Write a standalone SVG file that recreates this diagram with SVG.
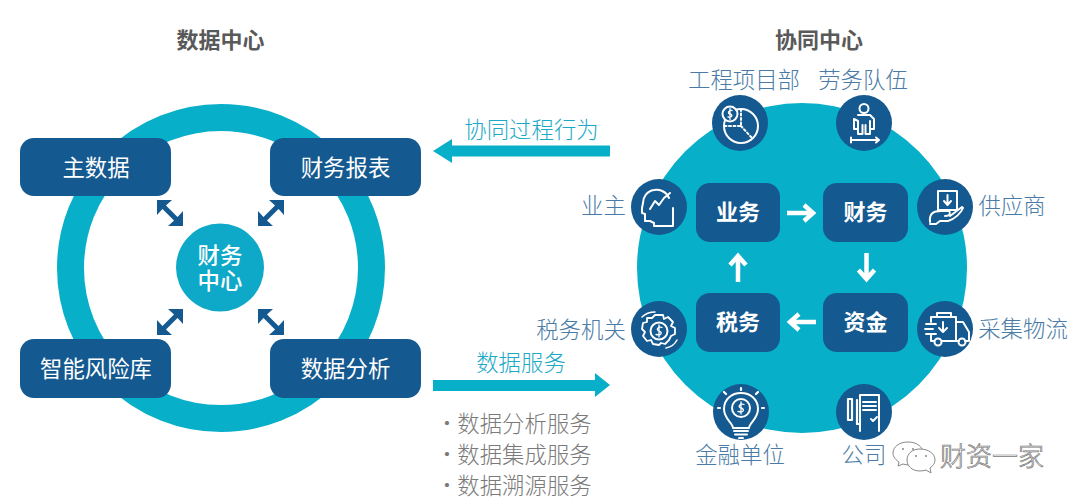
<svg xmlns="http://www.w3.org/2000/svg" width="1080" height="504" viewBox="0 0 1080 504">
<style>
text{font-family:"Noto Sans CJK SC","Noto Sans",sans-serif;font-size:22.400px;text-anchor:middle;dominant-baseline:central}
.title{fill:#595959;font-weight:700;font-size:22px}
.box{fill:#14598f}
.bt{fill:#fff}
.bb{fill:#fff;font-weight:700;font-size:22px}
.lab{fill:#4a7ba6;font-weight:300}
.flow{fill:#1ba9c6;font-weight:300}
.list{fill:#7a7a7a;font-weight:300}
.ic{fill:#14598f}
.i{fill:none;stroke:#fff;stroke-width:2;stroke-linecap:round;stroke-linejoin:round}
.d{stroke-dasharray:2 2.5}
.wa{fill:none;stroke:#fff;stroke-width:4.5}
.wm{fill:#fff;stroke:#777;stroke-width:.7;font-size:26px;font-weight:300}
.wb{fill:#fff;stroke:#888;stroke-width:1}
</style>
<defs>
<g id="dbl">
<path d="M-10-10L10 10" stroke="#14598f" stroke-width="5" fill="none"/>
<path id="h" d="M-13-13H2L-3-8.500-8.500-3-13 2Z" fill="#14598f"/>
<path d="M13 13H-2L3 8.500 8.500 3 13-2Z" fill="#14598f"/>
</g>
<path id="wa" class="wa" d="M-14 0H12M3-8L12 0 3 8"/>
</defs>
<text class="title" x="220.500" y="38">数据中心</text>
<text class="title" x="819" y="38">协同中心</text>
<g id="ring"><circle cx="221" cy="268" r="150.500" fill="none" stroke="#08afc9" stroke-width="27"/></g>
<g id="hub"><circle cx="220" cy="267.500" r="44" fill="#0ea9c8"/><text class="bt" font-weight="500"><tspan x="220" y="254">财务</tspan><tspan x="220" y="279">中心</tspan></text></g>
<g id="n-master"><rect class="box" x="20" y="138" width="151" height="58" rx="14"/><text class="bt" x="96" y="165.500">主数据</text></g>
<g id="n-report"><rect class="box" x="270" y="138" width="151" height="58" rx="14"/><text class="bt" x="345.500" y="165.500">财务报表</text></g>
<g id="n-risk"><rect class="box" x="20" y="339" width="151" height="59" rx="14"/><text class="bt" x="96" y="366.500">智能风险库</text></g>
<g id="n-analysis"><rect class="box" x="270" y="339" width="151" height="59" rx="14"/><text class="bt" x="345.500" y="366.500">数据分析</text></g>
<g id="bigcircle"><circle cx="802" cy="268" r="165" fill="#08afc9"/></g>
<g id="connectors">
<use href="#dbl" transform="translate(170 213)"/>
<use href="#dbl" transform="translate(271 213) rotate(90)"/>
<use href="#dbl" transform="translate(170 322) rotate(90)"/>
<use href="#dbl" transform="translate(271 322)"/>
<path d="M610 145.500H452V139L433 151 452 163V156.500H610Z" fill="#08afc9"/>
<path d="M433 380H595V373L610 385 595 397V391H433Z" fill="#08afc9"/>
</g>
<text class="flow" x="531.500" y="128">协同过程行为</text>
<text class="flow" x="521" y="361">数据服务</text>
<g id="n-biz"><rect class="box" x="696" y="183" width="84" height="59" rx="14"/><text class="bb" x="738" y="210">业务</text></g>
<g id="n-fin"><rect class="box" x="823" y="183" width="85" height="59" rx="14"/><text class="bb" x="865.500" y="210">财务</text></g>
<g id="n-tax"><rect class="box" x="696" y="293" width="84" height="59" rx="14"/><text class="bb" x="738" y="320">税务</text></g>
<g id="n-fund"><rect class="box" x="823" y="293" width="85" height="59" rx="14"/><text class="bb" x="865.500" y="320">资金</text></g>
<g id="flow-arrows">
<use href="#wa" transform="translate(801 213)"/>
<use href="#wa" transform="translate(866.500 267) rotate(90)"/>
<use href="#wa" transform="translate(802 322) rotate(180)"/>
<use href="#wa" transform="translate(738 268) rotate(-90)"/>
</g>
<g id="i-project"><circle class="ic" cx="740" cy="123" r="28"/>
<g class="i"><circle cx="741" cy="126" r="17"/><circle cx="730" cy="114" r="7.500" fill="#14598f"/><path d="M732 110.500C728 110 727.500 114 730 114S733 118 728 117M730 108.500V119.500" stroke-width="1.300"/><path class="d" d="M741 109V126H725M741 126L752 138"/></g>
<text class="lab" x="744" y="78">工程项目部</text></g>
<g id="i-labor"><circle class="ic" cx="864" cy="123" r="28"/>
<g class="i"><circle cx="864" cy="108.500" r="4.500"/><path d="M858 115H870L874 119V129H870V121M870 129V134H865.500V125M862.500 125V134H858V129M858 121V129H854V119Z"/><path d="M851 140H879M851 137.500V142.500M876 137.500L879 140 876 142.500"/></g>
<text class="lab" x="863" y="78">劳务队伍</text></g>
<g id="i-owner"><circle class="ic" cx="659" cy="207" r="28"/>
<g class="i"><path d="M669 198C666 191 659 189 654 190 647 191 643 197 643 203L642 208 642 213 645 214V221H650L654 223V226H673V208"/><path d="M650 209L655 201 659 205 664 198 670 193" stroke-width="2"/></g>
<text class="lab" x="603.500" y="204">业主</text></g>
<g id="i-supplier"><circle class="ic" cx="945" cy="207" r="28"/>
<g class="i"><rect x="938" y="191" width="19" height="19"/><path d="M947.500 195V204M944 201L947.500 205 951 201"/><path d="M930 222C929 213 934 211 941 211H949C951 213 950 216 945 216M950 216L962 207 963 208C961 213 955 219 948 221H940L936 224 930 224"/></g>
<text class="lab" x="1012" y="204">供应商</text></g>
<g id="i-taxbureau"><circle class="ic" cx="659" cy="329" r="28"/>
<g class="i"><path d="M655 315H663L664 319 668 317 673 322 671 326 675 328V334L671 336 669 340 665 344 661 343 659 345 653 344 651 340 647 341 643 336 645 332 642 329 643 323 647 322 647 318 652 318Z" stroke-width="1.800"/><circle cx="659" cy="331" r="8.500"/><path d="M662 327.500C658 326 655.500 330 659 331S662 336 656 334.500M659 325V337" stroke-width="1.300"/><path d="M642 317C646 313 650 312 655 312M677 340C675 344 671 347 666 348" stroke-width="1.500"/></g>
<text class="lab" x="581" y="328">税务机关</text></g>
<g id="i-logistics"><circle class="ic" cx="945" cy="329" r="28"/>
<g class="i"><path d="M937 316V313H951V316M931 322V317H956V341H942M934 341H931V335"/><path d="M956 322H963L969 332V341H965M956 341H959"/><circle cx="938" cy="342" r="3.500"/><circle cx="962" cy="342" r="3.500"/><path d="M943 322V331M939 328L943 332 947 328"/><path d="M926 324H936M925 329H933M926 334H936" stroke-width="1.800"/></g>
<text class="lab" x="1023" y="327">采集物流</text></g>
<g id="i-bank"><circle class="ic" cx="741" cy="412" r="28"/>
<g class="i"><path d="M733 428C733 423 724 419 724 409 724 399 732 393 741 393S758 399 758 409C758 419 749 423 749 428Z"/><circle cx="741" cy="408" r="9"/><path d="M744 404.500C740 403 737 407 741 408S744 413 738 411.500M741 402V414" stroke-width="1.300"/><path d="M734 431H748M735 434.500H747M739 438H743"/><path d="M741 388V390M724 392L726 394M758 392L756 394M718 408H720M764 408H762" stroke-width="2.200"/></g>
<text class="lab" x="740" y="453">金融单位</text></g>
<g id="i-company"><circle class="ic" cx="864" cy="412" r="28"/>
<g class="i"><path d="M860 431V395H879V431M863 402H876M863 406H876M863 410H876M871 419L873 421 877 417"/><path d="M857 400V424M852 399V420H848V399Z" stroke-width="2.200"/><path d="M857 424H860" /></g>
<text class="lab" x="864" y="453">公司</text></g>
<g id="service-list">
<text class="list" x="447" y="422">·</text><text class="list" x="524.500" y="422">数据分析服务</text>
<text class="list" x="447" y="453">·</text><text class="list" x="524.500" y="453">数据集成服务</text>
<text class="list" x="447" y="484">·</text><text class="list" x="524.500" y="484">数据溯源服务</text>
</g>
<g id="watermark">
<path class="wb" d="M908 442C899 442 893 447 893 453 893 457 896 460 899 462L898 466 903 464C905 464.500 907 465 909 465 918 465 923 460 923 453 923 447 917 442 908 442Z"/>
<path class="wb" d="M920 449C912 449 907 454 907 460 907 466 912 471 920 471 922 471 924 470.500 926 470L931 473 930 468C933 466 935 463 935 460 935 454 929 449 920 449Z"/>
<path d="M902 449h2M912 449h2M915 456h2M925 456h2" stroke="#888" stroke-width="1.500"/>
<text class="wm" x="992" y="454">财资一家</text>
</g>
</svg>
